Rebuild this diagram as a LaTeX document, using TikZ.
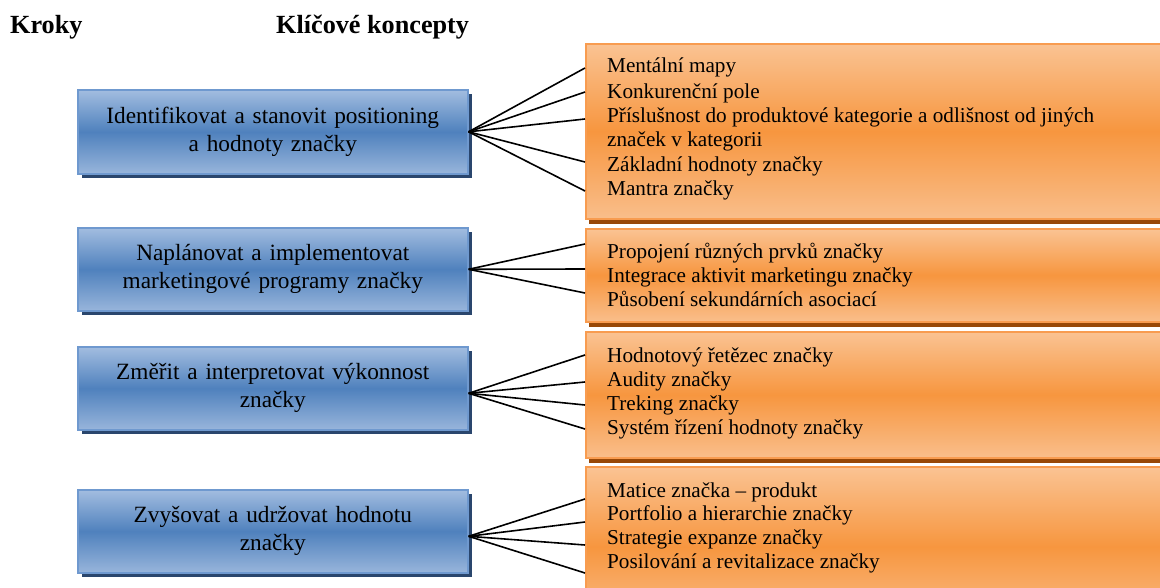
\documentclass[tikz,border=0pt]{standalone}
\usepackage{fontspec}
\setmainfont{Liberation Serif}
\usetikzlibrary{shadows}

\definecolor{bluetop}{HTML}{A2BDE0}
\definecolor{bluemid}{HTML}{4F81BD}
\definecolor{bluebot}{HTML}{98B5DB}
\definecolor{blueedge}{HTML}{6F99CF}
\definecolor{blueshadow}{HTML}{2A466D}
\definecolor{orangetop}{HTML}{FAC393}
\definecolor{orangemid}{HTML}{F7963F}
\definecolor{orangebot}{HTML}{F9BE8B}
\definecolor{orangeedge}{HTML}{F89C50}
\definecolor{orangeshadow}{HTML}{984807}

\begin{document}
\begin{tikzpicture}[x=1pt,y=-1pt,
  stepbox/.style={draw=blueedge, line width=1.6pt,
    top color=bluetop, bottom color=bluebot, middle color=bluemid,
    minimum width=390pt, minimum height=84pt, anchor=north west,
    align=center, text width=384pt, inner sep=0pt,
    font=\fontsize{23.3}{28}\selectfont,
    drop shadow={shadow xshift=4pt, shadow yshift=-4pt, fill=blueshadow, opacity=1}},
  conceptbox/.style={draw=orangeedge, line width=1.6pt,
    top color=orangetop, bottom color=orangebot, middle color=orangemid,
    minimum width=600pt, anchor=north west, inner sep=0pt,
    drop shadow={shadow xshift=3pt, shadow yshift=-5pt, fill=orangeshadow, opacity=1}},
  item/.style={anchor=base west, inner sep=0pt, font=\fontsize{21.2}{24.5}\selectfont},
  heading/.style={anchor=base west, inner sep=0pt, font=\fontsize{26.2}{30}\selectfont\bfseries},
  fan/.style={draw=black, line width=1.6pt}
]
\useasboundingbox (0,0) rectangle (1160,588);
\fill[white] (0,0) rectangle (1160,588);
\clip (0,0) rectangle (1160,588);

% column headings
\node[heading] (hsteps) at (10,34) {Kroky};
\node[heading] (hconcepts) at (276,34) {Klíčové koncepty};

% concept panels (right column)
\node[conceptbox, minimum height=175pt] (pA) at (585,43) {};
\node[conceptbox, minimum height=93pt]  (pB) at (585,228) {};
\node[conceptbox, minimum height=126pt] (pC) at (585,331) {};
\node[conceptbox, minimum height=160pt] (pD) at (585,466) {};

% steps (left column)
\node[stepbox, minimum height=84pt] (s1) at (77,89)  {Identifikovat a stanovit positioning\\a hodnoty značky};
\node[stepbox, minimum height=83pt] (s2) at (77,227) {Naplánovat a implementovat\\marketingové programy značky};
\node[stepbox, minimum height=83pt] (s3) at (77,346) {Změřit a interpretovat výkonnost\\značky};
\node[stepbox, minimum height=83pt] (s4) at (77,489) {Zvyšovat a udržovat hodnotu\\značky};

% concept items
\node[item] (a1) at (607,73)  {Mentální mapy};
\node[item] (a2) at (607,99)  {Konkurenční pole};
\node[item] (a3) at (607,123) {Příslušnost do produktové kategorie a odlišnost od jiných};
\node[item] (a4) at (607,147) {značek v kategorii};
\node[item] (a5) at (607,172) {Základní hodnoty značky};
\node[item] (a6) at (607,196) {Mantra značky};

\node[item] (b1) at (607,259) {Propojení různých prvků značky};
\node[item] (b2) at (607,283) {Integrace aktivit marketingu značky};
\node[item] (b3) at (607,307) {Působení sekundárních asociací};

\node[item] (c1) at (607,362) {Hodnotový řetězec značky};
\node[item] (c2) at (607,386) {Audity značky};
\node[item] (c3) at (607,410) {Treking značky};
\node[item] (c4) at (607,434) {Systém řízení hodnoty značky};

\node[item] (d1) at (607,497) {Matice značka – produkt};
\node[item] (d2) at (607,520) {Portfolio a hierarchie značky};
\node[item] (d3) at (607,544) {Strategie expanze značky};
\node[item] (d4) at (607,568) {Posilování a revitalizace značky};

% connector end points on the panels' left edges
\coordinate (ea1) at (585,68);
\coordinate (ea2) at (585,92);
\coordinate (ea3) at (585,119);
\coordinate (ea5) at (585,162);
\coordinate (ea6) at (585,191);
\coordinate (eb1) at (585,244);
\coordinate (eb2) at (585,269);
\coordinate (eb3) at (585,293);
\coordinate (ec1) at (585,355);
\coordinate (ec2) at (585,382);
\coordinate (ec3) at (585,405);
\coordinate (ec4) at (585,429);
\coordinate (ed1) at (585,499);
\coordinate (ed2) at (585,522);
\coordinate (ed3) at (585,545);
\coordinate (ed4) at (585,573);

% fan connectors
\foreach \e in {ea1,ea2,ea3,ea5,ea6} \draw[fan] (s1.east) -- (\e);
\foreach \e in {eb1,eb2,eb3} \draw[fan] (s2.east) -- (\e);
\foreach \e in {ec1,ec2,ec3,ec4} \draw[fan] ([yshift=-5pt]s3.east) -- (\e);
\foreach \e in {ed1,ed2,ed3,ed4} \draw[fan] ([yshift=-5pt]s4.east) -- (\e);
\end{tikzpicture}
\end{document}
